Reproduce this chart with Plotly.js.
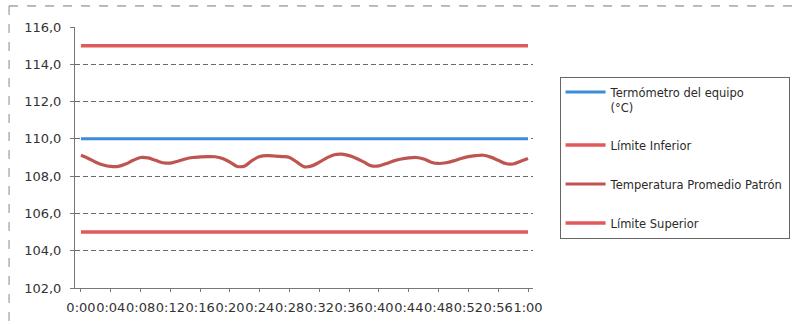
<!DOCTYPE html>
<html>
<head>
<meta charset="utf-8">
<script src="https://cdn.plot.ly/plotly-3.0.1.min.js"></script>
<style>
  html, body { margin: 0; padding: 0; background: #ffffff; }
  #chart { width: 796px; height: 324px; }
</style>
</head>
<body>
<div id="chart"></div>
<script>
// Elapsed time, one reading per minute
const times = [
  "0:00","0:01","0:02","0:03","0:04","0:05","0:06","0:07","0:08","0:09",
  "0:10","0:11","0:12","0:13","0:14","0:15","0:16","0:17","0:18","0:19",
  "0:20","0:21","0:22","0:23","0:24","0:25","0:26","0:27","0:28","0:29",
  "0:30","0:31","0:32","0:33","0:34","0:35","0:36","0:37","0:38","0:39",
  "0:40","0:41","0:42","0:43","0:44","0:45","0:46","0:47","0:48","0:49",
  "0:50","0:51","0:52","0:53","0:54","0:55","0:56","0:57","0:58","0:59",
  "1:00"
];

// Labels shown on the time axis (every 4 minutes)
const timeTicks = [
  "0:00","0:04","0:08","0:12","0:16","0:20","0:24","0:28",
  "0:32","0:36","0:40","0:44","0:48","0:52","0:56","1:00"
];

// Equipment thermometer setpoint (°C)
const termometroEquipo = [
  110.0,110.0,110.0,110.0,110.0,110.0,110.0,110.0,110.0,110.0,
  110.0,110.0,110.0,110.0,110.0,110.0,110.0,110.0,110.0,110.0,
  110.0,110.0,110.0,110.0,110.0,110.0,110.0,110.0,110.0,110.0,
  110.0,110.0,110.0,110.0,110.0,110.0,110.0,110.0,110.0,110.0,
  110.0,110.0,110.0,110.0,110.0,110.0,110.0,110.0,110.0,110.0,
  110.0,110.0,110.0,110.0,110.0,110.0,110.0,110.0,110.0,110.0,
  110.0
];

// Limits (°C)
const limiteInferior = [
  115.0,115.0,115.0,115.0,115.0,115.0,115.0,115.0,115.0,115.0,
  115.0,115.0,115.0,115.0,115.0,115.0,115.0,115.0,115.0,115.0,
  115.0,115.0,115.0,115.0,115.0,115.0,115.0,115.0,115.0,115.0,
  115.0,115.0,115.0,115.0,115.0,115.0,115.0,115.0,115.0,115.0,
  115.0,115.0,115.0,115.0,115.0,115.0,115.0,115.0,115.0,115.0,
  115.0,115.0,115.0,115.0,115.0,115.0,115.0,115.0,115.0,115.0,
  115.0
];
const limiteSuperior = [
  105.0,105.0,105.0,105.0,105.0,105.0,105.0,105.0,105.0,105.0,
  105.0,105.0,105.0,105.0,105.0,105.0,105.0,105.0,105.0,105.0,
  105.0,105.0,105.0,105.0,105.0,105.0,105.0,105.0,105.0,105.0,
  105.0,105.0,105.0,105.0,105.0,105.0,105.0,105.0,105.0,105.0,
  105.0,105.0,105.0,105.0,105.0,105.0,105.0,105.0,105.0,105.0,
  105.0,105.0,105.0,105.0,105.0,105.0,105.0,105.0,105.0,105.0,
  105.0
];

// Average temperature of the reference standard (°C)
const temperaturaPatron = [
  109.12,108.95,108.75,108.60,108.52,108.52,108.65,108.85,109.00,108.98,
  108.85,108.72,108.70,108.80,108.92,109.00,109.03,109.05,109.04,108.95,
  108.75,108.52,108.55,108.85,109.05,109.10,109.08,109.05,109.00,108.75,
  108.50,108.55,108.75,108.98,109.15,109.18,109.10,108.95,108.75,108.55,
  108.55,108.68,108.82,108.92,108.98,109.00,108.92,108.75,108.68,108.72,
  108.82,108.95,109.05,109.10,109.12,109.02,108.85,108.68,108.65,108.80,
  108.95
];

const seriesNames = [
  "Termómetro del equipo<br>(°C)",
  "Límite Inferior",
  "Temperatura Promedio Patrón",
  "Límite Superior"
];

const traces = [
  {
    x: times, y: termometroEquipo, name: seriesNames[0], legendgroup: "a",
    type: "scatter", mode: "lines",
    line: { color: "#3b8bd6", width: 3 }
  },
  {
    x: times, y: limiteInferior, name: seriesNames[1], legendgroup: "b",
    type: "scatter", mode: "lines",
    line: { color: "#e05a5c", width: 3.5 }
  },
  {
    x: times, y: temperaturaPatron, name: seriesNames[2], legendgroup: "c",
    type: "scatter", mode: "lines",
    line: { color: "#bf5550", width: 3.2, shape: "spline", smoothing: 1 }
  },
  {
    x: times, y: limiteSuperior, name: seriesNames[3], legendgroup: "d",
    type: "scatter", mode: "lines",
    line: { color: "#e05a5c", width: 3.5 }
  }
];

const layout = {
  width: 796,
  height: 324,
  margin: { l: 75, r: 263, t: 27, b: 36, pad: 0, autoexpand: false },
  paper_bgcolor: "#ffffff",
  plot_bgcolor: "#ffffff",
  separators: ",.",
  font: { family: "DejaVu Sans, sans-serif", color: "#333333" },
  showlegend: true,
  xaxis: {
    type: "category",
    range: [-0.8, 60.67],
    tickmode: "array",
    tickvals: timeTicks,
    ticktext: timeTicks,
    tickangle: 0,
    ticks: "outside",
    ticklen: 3,
    tickcolor: "#777777",
    ticklabelstandoff: 4,
    showgrid: false,
    showline: true,
    linecolor: "#777777",
    linewidth: 1,
    zeroline: false,
    automargin: false,
    tickfont: { size: 13, color: "#333333" }
  },
  yaxis: {
    range: [102, 116],
    tickmode: "array",
    tickvals: [102, 104, 106, 108, 110, 112, 114, 116],
    tickformat: ".1f",
    ticks: "outside",
    ticklen: 4,
    tickcolor: "#777777",
    ticklabelstandoff: 6,
    showgrid: true,
    gridcolor: "#6a6a6a",
    gridwidth: 1,
    griddash: "5px,3px",
    showline: true,
    linecolor: "#777777",
    linewidth: 1,
    zeroline: false,
    automargin: false,
    tickfont: { size: 13, color: "#333333" }
  },
  legend: {
    x: 1.058,
    y: 0.808,
    xanchor: "left",
    yanchor: "top",
    valign: "top",
    bgcolor: "#ffffff",
    bordercolor: "#666666",
    borderwidth: 1,
    itemwidth: 40,
    tracegroupgap: 20,
    font: { size: 11.5, color: "#2a2a2a", family: "DejaVu Sans, sans-serif" }
  },
  shapes: [
    // outer chart frame (top and left edges)
    {
      type: "line", xref: "paper", yref: "paper",
      x0: -0.144, x1: 1.6, y0: 1.0806, y1: 1.0806,
      line: { color: "#777777", width: 1, dash: "dash" }
    },
    {
      type: "line", xref: "paper", yref: "paper",
      x0: -0.144, x1: -0.144, y0: 1.0806, y1: -0.2,
      line: { color: "#888888", width: 1, dash: "dash" }
    }
  ]
};

Plotly.newPlot("chart", traces, layout, { displayModeBar: false, staticPlot: true });
</script>
</body>
</html>
